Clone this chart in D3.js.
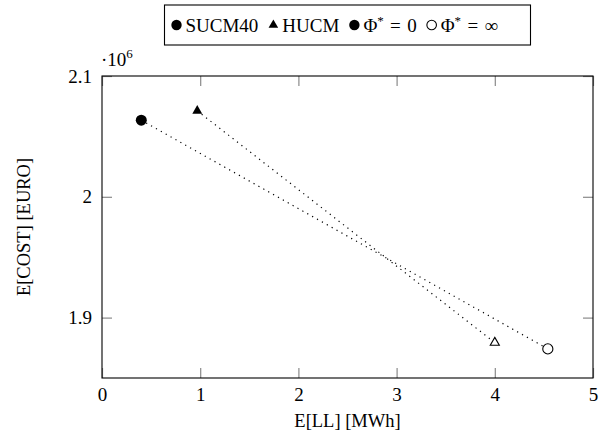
<!DOCTYPE html>
<html>
<head>
<meta charset="utf-8">
<script src="https://cdn.jsdelivr.net/npm/d3@7"></script>
<style>
  body { margin: 0; background: #fff; }
</style>
</head>
<body>
<svg id="chart" width="611" height="437"></svg>
<script>
// values
const seriesNames = ['SUCM40', 'HUCM'];
const llSUCM40 = [0.40, 4.54];
const costSUCM40 = [2063400, 1874100];
const llHUCM = [0.97, 4.00];
const costHUCM = [2071200, 1879300];
const phiLabels = ['0', '\u221E'];   // first point Φ* = 0 (filled), second Φ* = ∞ (hollow)
const xTicks = [0, 1, 2, 3, 4, 5];
const yTicks = [1900000, 2000000, 2100000];

const svg = d3.select('#chart');
const margin = {top: 76, right: 18, bottom: 59, left: 102};
const W = 611, H = 437;
const serif = '"Liberation Serif"';

const x = d3.scaleLinear().domain([0, 5]).range([margin.left, W - margin.right]);
const y = d3.scaleLinear().domain([1850000, 2100000]).range([H - margin.bottom, margin.top]);

const tickColor = '#8a8a8a';
const fmtY = d => d3.format('~g')(d / 1e6);

function styleTicks(g) {
    g.attr('font-family', null).attr('font-size', null);
    g.select('.domain').remove();
    g.selectAll('.tick line').attr('stroke', tickColor).attr('stroke-width', 1.2);
    g.selectAll('.tick text')
        .style('font-family', serif)
        .style('font-size', '19px')
        .attr('fill', '#000');
}

svg.append('g')
    .attr('transform', `translate(0,${y.range()[0]})`)
    .call(d3.axisBottom(x).tickValues(xTicks).tickSize(-10).tickPadding(10).tickFormat(d3.format('d')))
    .call(styleTicks);

svg.append('g')
    .attr('transform', `translate(0,${y.range()[1]})`)
    .call(d3.axisTop(x).tickValues(xTicks).tickSize(-10).tickFormat(''))
    .call(styleTicks);

svg.append('g')
    .attr('transform', `translate(${x.range()[0]},0)`)
    .call(d3.axisLeft(y).tickValues(yTicks).tickSize(-10).tickPadding(10).tickFormat(fmtY))
    .call(styleTicks);

svg.append('g')
    .attr('transform', `translate(${x.range()[1]},0)`)
    .call(d3.axisRight(y).tickValues(yTicks).tickSize(-10).tickFormat(''))
    .call(styleTicks);

// frame
svg.append('rect')
    .attr('x', x.range()[0]).attr('y', y.range()[1])
    .attr('width', x.range()[1] - x.range()[0])
    .attr('height', y.range()[0] - y.range()[1])
    .attr('fill', 'none').attr('stroke', '#000').attr('stroke-width', 1.1);

// series
const series = [
    {name: seriesNames[0], ll: llSUCM40, cost: costSUCM40, shape: d3.symbolCircle, size: 95},
    {name: seriesNames[1], ll: llHUCM, cost: costHUCM, shape: d3.symbolTriangle, size: 42}
];

const line = d3.line().x(d => x(d[0])).y(d => y(d[1]));

series.forEach(s => {
    const pts = s.ll.map((v, i) => [v, s.cost[i]]);
    svg.append('path')
        .attr('d', line(pts))
        .attr('fill', 'none')
        .attr('stroke', '#000')
        .attr('stroke-width', 1.2)
        .attr('stroke-dasharray', '1.2,4.4');
    svg.selectAll(null)
        .data(pts)
        .enter()
        .append('path')
        .attr('transform', d => `translate(${x(d[0])},${y(d[1])})`)
        .attr('d', (d, i) => d3.symbol().type(s.shape).size(i === 0 ? s.size : s.size * 0.85)())
        .attr('fill', (d, i) => i === 0 ? '#000' : '#fff')
        .attr('stroke', '#000')
        .attr('stroke-width', (d, i) => i === 0 ? 0 : 1.1);
});

// ·10^6 multiplier
const mult = svg.append('text')
    .attr('x', x.range()[0] - 1).attr('y', 66)
    .style('font-family', serif).style('font-size', '19px');
mult.append('tspan').text('\u00B710');
mult.append('tspan').attr('dy', -8).style('font-size', '13px').text('6');

// axis labels
svg.append('text')
    .attr('x', (x.range()[0] + x.range()[1]) / 2).attr('y', 427)
    .attr('text-anchor', 'middle')
    .style('font-family', serif).style('font-size', '18.5px')
    .text('E[LL] [MWh]');

svg.append('text')
    .attr('transform', `translate(30,${(y.range()[0] + y.range()[1]) / 2}) rotate(-90)`)
    .attr('text-anchor', 'middle')
    .style('font-family', serif).style('font-size', '18.5px')
    .text('E[COST] [EURO]');

// legend
const axMid = (x.range()[0] + x.range()[1]) / 2;
const legend = svg.append('g');
legend.append('rect')
    .attr('x', axMid - 183).attr('y', 5).attr('width', 366).attr('height', 40)
    .attr('fill', '#fff').attr('stroke', '#000').attr('stroke-width', 1.1);
const legendItems = [
    {shape: d3.symbolCircle, size: 85, fill: '#000', label: seriesNames[0]},
    {shape: d3.symbolTriangle, size: 40, fill: '#000', label: seriesNames[1]},
    {shape: d3.symbolCircle, size: 85, fill: '#000', phi: phiLabels[0]},
    {shape: d3.symbolCircle, size: 72, fill: '#fff', phi: phiLabels[1]}
];
let cursor = axMid - 171;
const ly = 25;
legendItems.forEach(it => {
    legend.append('path')
        .attr('transform', `translate(${cursor},${ly})`)
        .attr('d', d3.symbol().type(it.shape).size(it.size)())
        .attr('fill', it.fill)
        .attr('stroke', '#000')
        .attr('stroke-width', it.fill === '#fff' ? 1.1 : 0);
    const t = legend.append('text')
        .attr('x', cursor + 9).attr('y', ly + 6.5)
        .style('font-family', serif).style('font-size', '19px');
    if (it.label) {
        t.text(it.label);
    } else {
        t.append('tspan').text('\u03A6');
        t.append('tspan').attr('dy', -7).style('font-size', '13px').text('*');
        t.append('tspan').attr('dy', 7).text('\u2004=\u2004' + it.phi);
    }
    cursor += 9 + t.node().getComputedTextLength() + 15;
});
</script>
</body>
</html>
